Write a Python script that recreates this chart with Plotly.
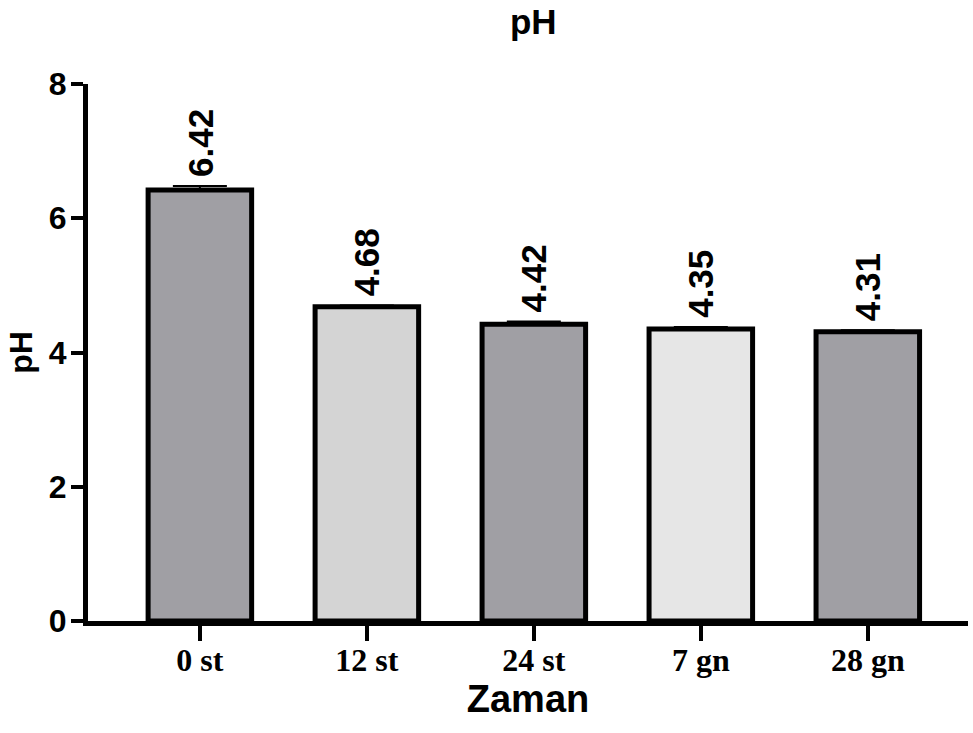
import plotly.graph_objects as go

categories = ["0 st", "12 st", "24 st", "7 gn", "28 gn"]
values = [6.42, 4.68, 4.42, 4.35, 4.31]
errors = [0.06, 0.02, 0.04, 0.03, 0.02]
labels = ["6.42", "4.68", "4.42", "4.35", "4.31"]
colors = ["#A09FA4", "#D4D4D4", "#A09FA4", "#E6E6E6", "#A09FA4"]

SANS = "Liberation Sans, Arial"
SERIF = "Liberation Serif, Times New Roman"

fig = go.Figure()
fig.add_trace(go.Bar(
    x=categories, y=values,
    marker=dict(color=colors, line=dict(color="black", width=5)),
    width=0.62,
    error_y=dict(type="data", array=errors, symmetric=False, arrayminus=[0]*5,
                 color="black", thickness=2, width=27),
    showlegend=False,
))

for c, v, e, t in zip(categories, values, errors, labels):
    fig.add_annotation(x=c, y=v + e, text="<b>" + t + "</b>", textangle=-90, showarrow=False,
                       yanchor="bottom", xanchor="center", yshift=7,
                       font=dict(family=SANS, size=35, color="black"))

fig.update_layout(
    width=973, height=733,
    margin=dict(l=88, r=5, t=84, b=112),
    plot_bgcolor="white", paper_bgcolor="white",
    title=dict(text="<b>pH</b>", x=0.548, xanchor="center", y=0.971, yanchor="middle",
               font=dict(family=SANS, size=35, color="black")),
)
fig.update_yaxes(
    range=[0, 8], tickvals=[0, 2, 4, 6, 8], ticktext=["<b>0</b>", "<b>2</b>", "<b>4</b>", "<b>6</b>", "<b>8</b>"],
    showline=True, linecolor="black", linewidth=5, ticks="outside", ticklen=12, tickwidth=4,
    tickcolor="black", showgrid=False, zeroline=False, ticklabelstandoff=-2,
    tickfont=dict(family=SANS, size=32, color="black"),
    title=dict(text="<b>pH</b>", font=dict(family=SANS, size=32, color="black"), standoff=8),
)
fig.update_xaxes(
    range=[-0.67, 4.6],
    ticktext=["<b>" + c + "</b>" for c in categories], tickvals=categories,
    showline=True, linecolor="black", linewidth=5, ticks="outside", ticklen=15, tickwidth=4,
    tickcolor="black", showgrid=False, ticklabelstandoff=-8,
    tickfont=dict(family=SERIF, size=32, color="black"),
    title=dict(text="<b>Zaman</b>", font=dict(family=SANS, size=38, color="black"), standoff=2),
)

fig.write_html("out.html")
